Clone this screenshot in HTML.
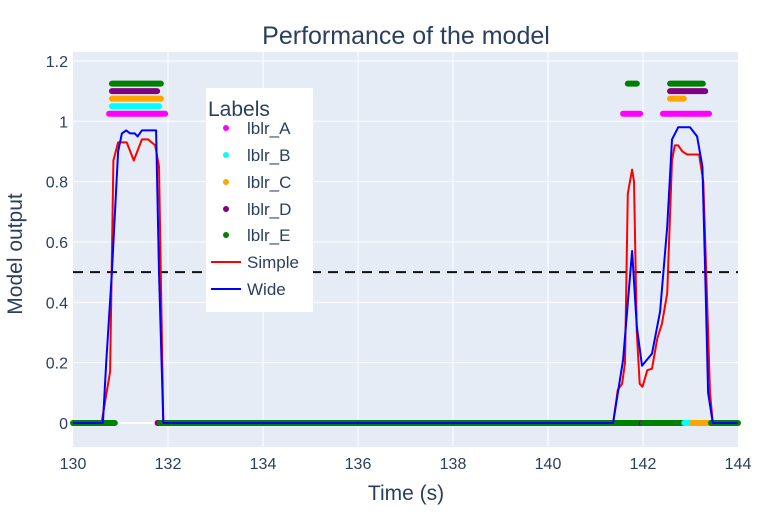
<!DOCTYPE html>
<html><head><meta charset="utf-8">
<style>
body{margin:0;background:#fff;}
svg{display:block;font-family:"Liberation Sans","DejaVu Sans",sans-serif;}
</style></head>
<body>
<svg id="chart" width="768" height="512">
<rect width="768" height="512" fill="#fff"/>
<rect x="73" y="52" width="665" height="395" fill="#e5ecf6"/>
<g id="grid"></g>
<g id="marks"></g>
<g id="axes"></g>
<text x="406" y="44" text-anchor="middle" font-size="25" fill="#2a3f5f">Performance of the model</text>
<text x="406" y="500" text-anchor="middle" font-size="21" fill="#2a3f5f">Time (s)</text>
<text transform="translate(22,254) rotate(-90)" text-anchor="middle" font-size="21" fill="#2a3f5f">Model output</text>
<g id="legend">
<rect x="206" y="88" width="107" height="224" fill="#fff"/>
<text x="208" y="116" font-size="21" fill="#2a3f5f">Labels</text>
</g>
</svg>
<script>
const xTicks=[130,132,134,136,138,140,142,144];
const yTicks=[0,0.2,0.4,0.6,0.8,1,1.2];
const yTickLabels=["0","0.2","0.4","0.6","0.8","1","1.2"];
const labelNames=["lblr_A","lblr_B","lblr_C","lblr_D","lblr_E"];
const labelColors=["#ff00ff","#00ffff","#ffa500","#800080","#008000"];
const labelLevels=[1.025,1.05,1.075,1.10,1.125];
const segA=[[130.76,131.94],[141.58,141.94],[142.42,143.39]];
const segB=[[130.82,131.81]];
const segC=[[130.82,131.85],[142.57,142.86]];
const segD=[[130.82,131.77],[142.57,143.31]];
const segE=[[130.82,131.85],[141.68,141.87],[142.57,143.26]];
const zeroSeg=[[130,130.88,"#008000"],[131.78,131.80,"#800080"],[131.83,141.95,"#008000"],[141.97,142.0,"#800080"],[142.0,142.87,"#008000"],[142.87,143.03,"#00ffff"],[143.03,143.43,"#ffa500"],[143.43,144,"#008000"]];
const timeSimple=[130,130.6,130.78,130.85,130.95,131.13,131.28,131.45,131.58,131.73,131.81,131.9,141.37,141.47,141.56,141.62,141.68,141.77,141.81,141.87,141.93,141.99,142.09,142.19,142.30,142.40,142.51,142.61,142.67,142.74,142.83,142.93,143.18,143.27,143.33,143.41,143.47,144];
const simpleVals=[0,0,0.17,0.87,0.93,0.93,0.87,0.94,0.94,0.92,0.85,0,0,0.11,0.13,0.2,0.76,0.84,0.80,0.3,0.13,0.12,0.175,0.18,0.28,0.33,0.43,0.87,0.92,0.92,0.90,0.89,0.89,0.8,0.5,0.1,0,0];
const timeWide=[130,130.63,130.7,130.82,130.95,131.03,131.12,131.2,131.3,131.36,131.45,131.75,131.81,131.9,141.37,141.58,141.77,141.87,141.98,142.19,142.36,142.51,142.61,142.74,142.99,143.14,143.25,143.31,143.37,143.47,144];
const wideVals=[0,0,0.2,0.5,0.9,0.96,0.97,0.96,0.96,0.95,0.97,0.97,0.5,0,0,0.21,0.57,0.32,0.19,0.23,0.37,0.65,0.94,0.98,0.98,0.95,0.85,0.5,0.1,0,0];

const NS="http://www.w3.org/2000/svg";
const X0=73,X1=738,Y0=423,YS=301.7;
function xs(v){return X0+(v-130)/14*(X1-X0);}
function ys(v){return Y0-v*YS;}
function mk(tag,attrs,parent){const e=document.createElementNS(NS,tag);for(const k in attrs)e.setAttribute(k,attrs[k]);parent.appendChild(e);return e;}
const grid=document.getElementById('grid'),marks=document.getElementById('marks'),axes=document.getElementById('axes'),legend=document.getElementById('legend');
xTicks.forEach((t,i)=>{
  if(t>130&&t<144){const l=mk('line',{x1:xs(t),x2:xs(t),y1:52,y2:447,stroke:'#fff','stroke-width':1},grid);
  
  }
  const tx=mk('text',{x:xs(t),y:469,'text-anchor':'middle','font-size':16,fill:'#2a3f5f'},axes);tx.textContent=t;
  
  
});
yTicks.forEach((t,i)=>{
  const l=mk('line',{x1:X0,x2:X1,y1:ys(t),y2:ys(t),stroke:'#fff','stroke-width':t===0?2:1},grid);
  
  
  const tx=mk('text',{x:68,y:ys(t)+6,'text-anchor':'end','font-size':16,fill:'#2a3f5f'},axes);tx.textContent=yTickLabels[i];
  
  
});
const th=mk('line',{x1:X0,x2:X1,y1:ys(0.5),y2:ys(0.5),stroke:'#111','stroke-width':2,'stroke-dasharray':'10,7'},marks);


const segs=[segA,segB,segC,segD,segE];
segs.forEach((ss,i)=>ss.forEach(s=>{
  const l=mk('line',{x1:xs(s[0]),x2:xs(s[1]),y1:ys(labelLevels[i]),y2:ys(labelLevels[i]),stroke:labelColors[i],'stroke-width':6,'stroke-linecap':'round'},marks);
  
  
}));
zeroSeg.forEach(s=>{
  const l=mk('line',{x1:xs(s[0]),x2:xs(s[1]),y1:ys(0),y2:ys(0),stroke:s[2],'stroke-width':6,'stroke-linecap':'round'},marks);
  
  
});
function path(ts,vs,color,name){
  const d=ts.map((t,i)=>(i?'L':'M')+xs(t).toFixed(1)+','+ys(vs[i]).toFixed(1)).join('');
  const p=mk('path',{d:d,fill:'none',stroke:color,'stroke-width':2,'stroke-linejoin':'round'},marks);
  
  
}
path(timeSimple,simpleVals,'#ff0000','simple-line');
path(timeWide,wideVals,'#0000ff','wide-line');
const ly=[133,160,187,214,240];
labelNames.forEach((n,i)=>{
  const c=mk('circle',{cx:226,cy:ly[i]-5,r:3,fill:labelColors[i]},legend);
  
  
  const t=mk('text',{x:247,y:ly[i]+1,'font-size':17,fill:'#2a3f5f'},legend);t.textContent=n;
  
  
});
[['Simple','#ff0000',267],['Wide','#0000ff',294]].forEach(e=>{
  const l=mk('line',{x1:211,x2:241,y1:e[2]-5,y2:e[2]-5,stroke:e[1],'stroke-width':2},legend);
  
  
  const t=mk('text',{x:247,y:e[2]+1,'font-size':17,fill:'#2a3f5f'},legend);t.textContent=e[0];
  
  
});
</script>
</body></html>
